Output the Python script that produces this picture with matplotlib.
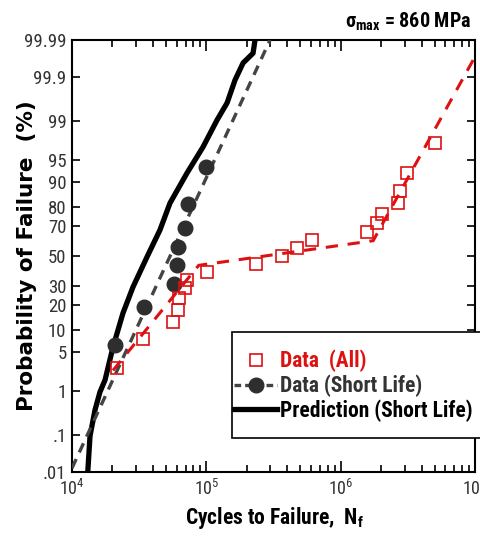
import math
import numpy as np
import matplotlib
matplotlib.use("Agg")
import matplotlib.pyplot as plt
from matplotlib.lines import Line2D
from matplotlib.patches import Rectangle
from matplotlib import font_manager as fm
from matplotlib.ticker import LogLocator, NullFormatter

# ---------------- data ----------------
all_cycles = [21500, 34000, 56800, 61200, 62700, 69300, 72400, 101600, 234000,
              364000, 476000, 610000, 1.58e6, 1.86e6, 2.02e6, 2.69e6, 2.77e6,
              3.14e6, 5.05e6]
all_prob = [2.66, 7.65, 12.9, 17.6, 23.5, 29.1, 33.7, 39.0, 44.3, 50.3, 55.3,
            60.9, 66.3, 71.4, 76.4, 81.8, 87.0, 92.3, 97.4]

all_fit_cycles = [20190, 87700, 1.746e6, 1.0e7]
all_fit_prob = [2.44, 43.6, 60.4, 99.97]

short_cycles = [20900, 34500, 57500, 60900, 61900, 69300, 73400, 99500]
short_prob = [6.3, 18.8, 31.3, 43.8, 56.3, 68.8, 81.3, 93.8]

short_fit_cycles = [1.0e4, 2.98e5]
short_fit_prob = [0.013, 99.99]

pred_cycles = [13100, 13620, 14830, 16150, 17620, 20200, 23970, 28460, 36150,
               45180, 53650, 71830, 94450, 120200, 142700, 163600, 187700,
               222700, 230400]
pred_prob = [0.01, 0.097, 0.40, 0.96, 1.64, 5.86, 16.3, 29.7, 49.3, 67.3, 81.9,
             92.35, 96.97, 99.04, 99.58, 99.878, 99.9555, 99.976, 99.99]

y_ticks = [0.01, 0.1, 1, 5, 10, 20, 30, 50, 70, 80, 90, 95, 99, 99.9, 99.99]
y_tick_labels = ['.01', '.1', '1', '5', '10', '20', '30', '50', '70', '80',
                 '90', '95', '99', '99.9', '99.99']
x_ticks = [1e4, 1e5, 1e6, 1e7]
x_tick_labels = [r'$\mathregular{10^{4}}$', r'$\mathregular{10^{5}}$',
                 r'$\mathregular{10^{6}}$', r'$\mathregular{10^{7}}$']

# ---------------- fonts ----------------
names = {f.name for f in fm.fontManager.ttflist}
NARROW = 'Roboto Condensed' if 'Roboto Condensed' in names else 'Liberation Sans'
WIDE = 'DejaVu Sans'
plt.rcParams['font.family'] = [NARROW, 'DejaVu Sans']

# ---------------- normal probability scale ----------------
_a = [-3.969683028665376e+01, 2.209460984245205e+02, -2.759285104469687e+02,
      1.383577518672690e+02, -3.066479806614716e+01, 2.506628277459239e+00]
_b = [-5.447609879822406e+01, 1.615858368580409e+02, -1.556989798598866e+02,
      6.680131188771972e+01, -1.328068155288572e+01]
_c = [-7.784894002430293e-03, -3.223964580411365e-01, -2.400758277161838e+00,
      -2.549732539343734e+00, 4.374664141464968e+00, 2.938163982698783e+00]
_d = [7.784695709041462e-03, 3.224671290700398e-01, 2.445134137142996e+00,
      3.754408661907416e+00]


def _ppf(p):
    p = np.clip(np.asarray(p, dtype=float), 1e-12, 1 - 1e-12)
    out = np.empty_like(p)
    plow = 0.02425
    lo = p < plow
    hi = p > 1 - plow
    mid = ~(lo | hi)
    q = np.sqrt(-2 * np.log(p[lo]))
    out[lo] = (((((_c[0]*q + _c[1])*q + _c[2])*q + _c[3])*q + _c[4])*q + _c[5]) / \
              ((((_d[0]*q + _d[1])*q + _d[2])*q + _d[3])*q + 1)
    q = np.sqrt(-2 * np.log(1 - p[hi]))
    out[hi] = -(((((_c[0]*q + _c[1])*q + _c[2])*q + _c[3])*q + _c[4])*q + _c[5]) / \
               ((((_d[0]*q + _d[1])*q + _d[2])*q + _d[3])*q + 1)
    q = p[mid] - 0.5
    r = q * q
    out[mid] = (((((_a[0]*r + _a[1])*r + _a[2])*r + _a[3])*r + _a[4])*r + _a[5]) * q / \
               (((((_b[0]*r + _b[1])*r + _b[2])*r + _b[3])*r + _b[4])*r + 1)
    return out


_erf = np.vectorize(math.erf)


def forward(pct):
    return _ppf(np.asarray(pct, dtype=float) / 100.0)


def inverse(z):
    z = np.asarray(z, dtype=float)
    return 50.0 * (1.0 + _erf(z / math.sqrt(2.0)))


# ---------------- figure ----------------
W, H = 481, 536
fig = plt.figure(figsize=(W / 100, H / 100), dpi=100)
ax = fig.add_axes([72 / W, 1 - 472 / H, (475 - 72) / W, (472 - 40) / H])

red = '#dd1111'

ax.plot(pred_cycles, pred_prob, color='black', lw=3.8, solid_capstyle='butt', zorder=3)
ax.plot(short_fit_cycles, short_fit_prob, color='#444444', lw=2.4,
        dashes=(3.0, 2.2), zorder=4)
ax.plot(short_cycles, short_prob, ls='none', marker='o', ms=10.5,
        mfc='#2e2e2e', mec='#2e2e2e', zorder=5)
ax.plot(all_fit_cycles, all_fit_prob, color=red, lw=2.2, dashes=(4.0, 3.2), zorder=6)
ax.plot(all_cycles, all_prob, ls='none', marker='s', ms=9, mfc='none', mec=red,
        mew=1.2, zorder=7)

ax.set_xscale('log')
ax.set_yscale('function', functions=(forward, inverse))
ax.set_xlim(1e4, 1e7)
ax.set_ylim(0.01, 99.99)

ax.set_yticks(y_ticks, labels=y_tick_labels)
ax.yaxis.set_minor_locator(matplotlib.ticker.NullLocator())
ax.set_xticks(x_ticks, labels=x_tick_labels)
ax.xaxis.set_minor_locator(LogLocator(base=10, subs=np.arange(2, 10)))
ax.xaxis.set_minor_formatter(NullFormatter())

ax.tick_params(which='both', direction='in', top=True, right=True,
               width=1.2, color='black', labelcolor='#333333')
ax.tick_params(axis='x', which='major', length=8, labelsize=13, pad=5)
ax.tick_params(axis='x', which='minor', length=5)
ax.tick_params(axis='y', which='major', length=6, labelsize=13.5, pad=4)
for s in ax.spines.values():
    s.set_linewidth(1.5)

# labels
fig.text(27 / W, 1 - 256 / H, 'Probability of Failure  (%)', rotation=90,
         ha='center', va='center', fontsize=15.5, fontweight='bold',
         family=[WIDE])
fig.text(274 / W, 1 - 518 / H, r'Cycles to Failure,  $\mathregular{N_f}$',
         ha='center', va='center', fontsize=15.5, fontweight='bold')
fig.text(472 / W, 1 - 28 / H, r'$\mathregular{σ_{max}}$ = 860 MPa',
         ha='right', va='baseline', fontsize=14.5, fontweight='bold')

# legend
fig.add_artist(Rectangle((232 / W, 1 - 438 / H), 300 / W, 106 / H,
                         transform=fig.transFigure, facecolor='white',
                         edgecolor='black', lw=1.2, zorder=3))
handles = [
    Line2D([], [], ls='none', marker='s', ms=9, mfc='none', mec=red, mew=1.2),
    Line2D([], [], color='#444444', lw=2.4, dashes=(2.0, 1.2), marker='o', ms=10.5,
           mfc='#2e2e2e', mec='#2e2e2e'),
    Line2D([], [], color='black', lw=3.8),
]
labels = ['Data  (All)', 'Data (Short Life)', 'Prediction (Short Life)']
leg = fig.legend(handles, labels, loc='upper left',
                 bbox_to_anchor=(234 / W, 1 - 350 / H), frameon=False,
                 prop={'family': [NARROW, 'DejaVu Sans'], 'weight': 'bold', 'size': 15.5},
                 handlelength=2.0, handletextpad=0.12, labelspacing=0.1,
                 borderpad=0.0, borderaxespad=0.0,
                 labelcolor=[red, '#333333', 'black'])
leg.set_zorder(4)

fig.savefig('out.png', dpi=100)
